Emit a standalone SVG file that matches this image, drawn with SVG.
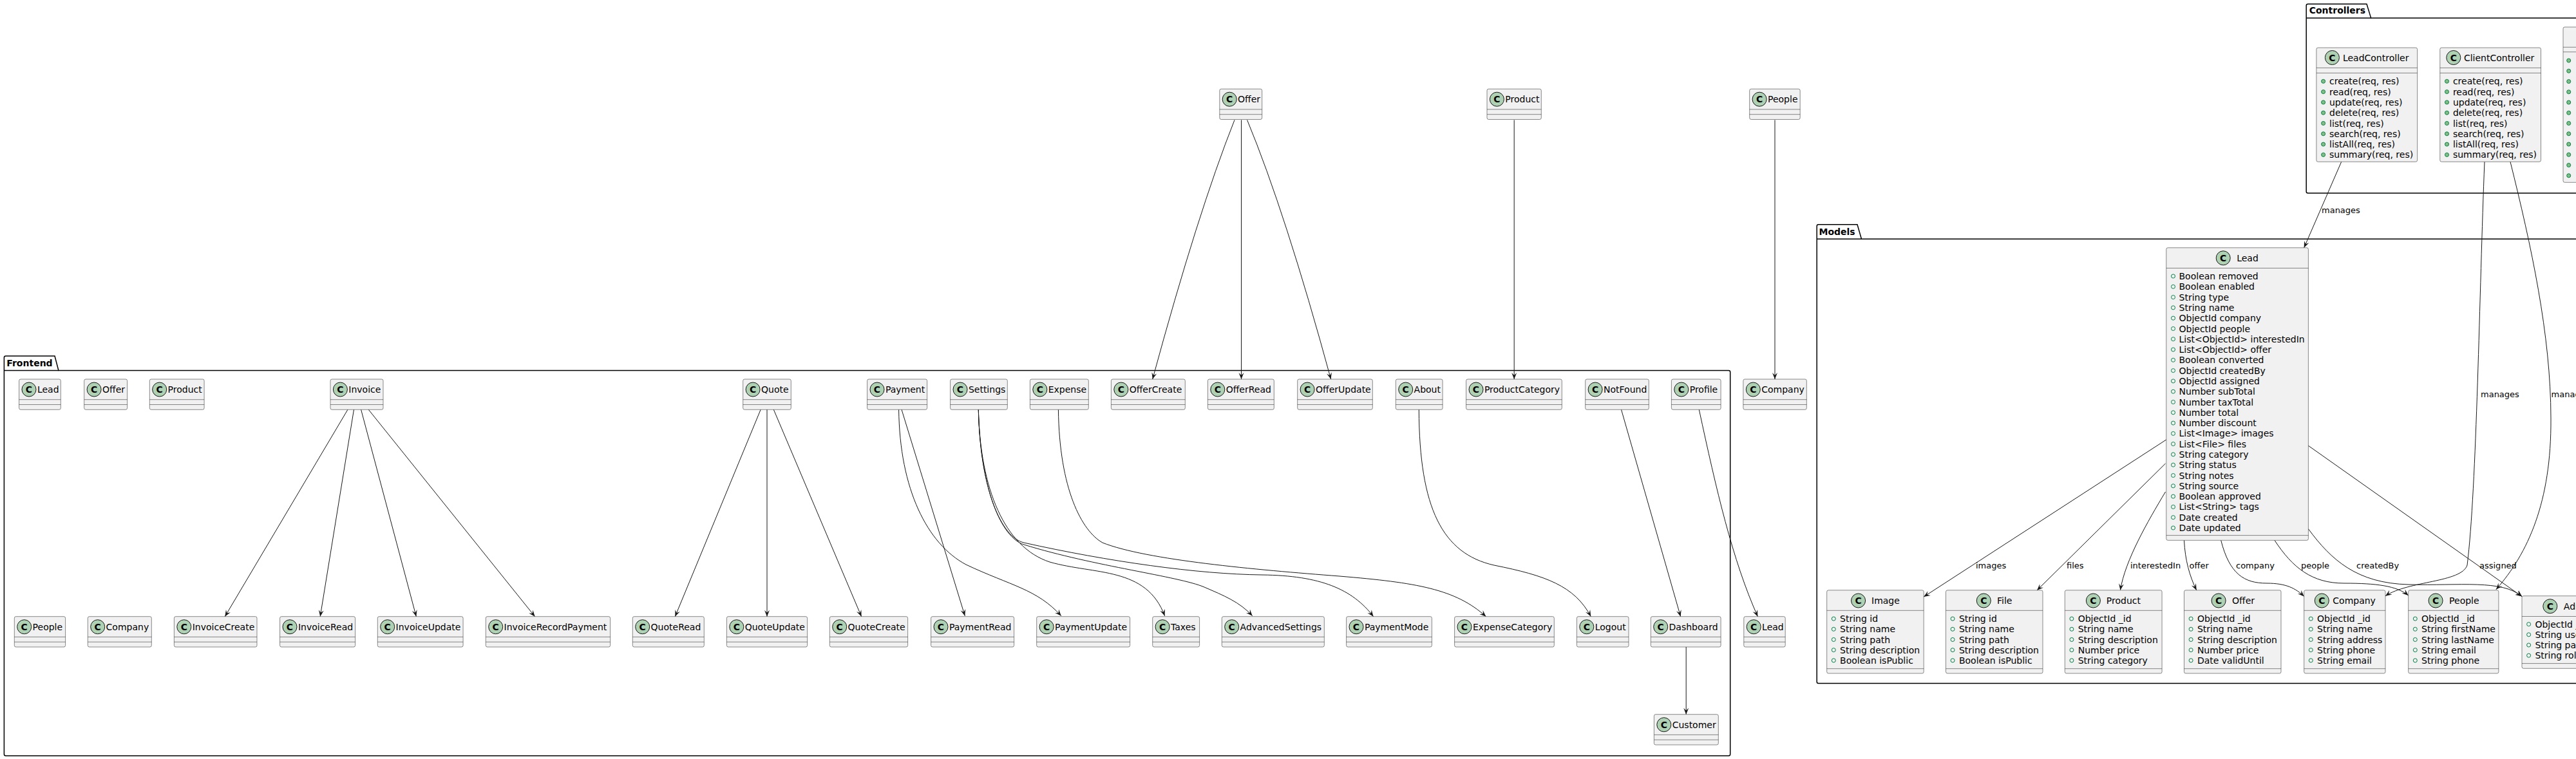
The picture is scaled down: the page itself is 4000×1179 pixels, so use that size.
<svg xmlns="http://www.w3.org/2000/svg" xmlns:xlink="http://www.w3.org/1999/xlink" width="4000" height="1179" viewBox="0 0 4000 1179">
<style>
.box{fill:#F1F1F1;stroke:#181818;stroke-width:0.5}
.sep{stroke:#181818;stroke-width:0.5}
.spot{fill:#ADD1B2;stroke:#181818;stroke-width:1}
.spotc{font-family:"DejaVu Sans",sans-serif;font-size:14px;font-weight:bold;text-anchor:middle;fill:#000}
.name{font-family:"DejaVu Sans",sans-serif;font-size:14px;fill:#000}
.attr{font-family:"DejaVu Sans",sans-serif;font-size:14px;fill:#000}
.fld{fill:none;stroke:#038048;stroke-width:1}
.mth{fill:#84BE84;stroke:#038048;stroke-width:1}
.edge{fill:none;stroke:#181818;stroke-width:1;marker-end:url(#arr)}
.lbl{font-family:"DejaVu Sans",sans-serif;font-size:13px;fill:#000}
.pkg{fill:none;stroke:#000;stroke-width:1.5}
.pkgname{font-family:"DejaVu Sans",sans-serif;font-size:14px;font-weight:bold;fill:#000}
</style>
<defs>
<marker id="arr" markerUnits="userSpaceOnUse" markerWidth="14" markerHeight="12" viewBox="-12 -6 14 12" refX="0" refY="0" orient="auto"><path d="M0,0 L-10,-4 L-6,0 L-10,4 Z" fill="#181818"/></marker>
<circle id="f" r="3" class="fld"/>
<circle id="m" r="3" class="mth"/>
</defs>
<rect x="0" y="0" width="4000" height="1179" fill="#FFFFFF"/>

<g id="packages">
<g id="pkg-Frontend"><path class="pkg" d="M6.4,575.5 L6.4,555.5 Q6.4,553 9,553 L85,553 L90.9,575.5 L2684.2,575.5 Q2686.7,575.5 2686.7,578 L2686.7,1171.5 Q2686.7,1174 2684.2,1174 L9,1174 Q6.4,1174 6.4,1171.5 Z"/><line class="pkg" x1="6.4" y1="575.5" x2="90.9" y2="575.5"/><text class="pkgname" x="10.3" y="568.5">Frontend</text></g>
<g id="pkg-Models"><path class="pkg" d="M2821.2,371.3 L2821.2,351.3 Q2821.2,348.8 2823.7,348.8 L2884,348.8 L2890.5,371.3 L4100,371.3 L4100,1061.6 L2823.7,1061.6 Q2821.2,1061.6 2821.2,1059.1 Z"/><line class="pkg" x1="2821.2" y1="371.3" x2="2890.5" y2="371.3"/><text class="pkgname" x="2824.5" y="365">Models</text></g>
<g id="pkg-Controllers"><path class="pkg" d="M3581.2,28.1 L3581.2,8.7 Q3581.2,6.25 3583.7,6.25 L3675,6.25 L3681.7,28.1 L4100,28.1 L4100,300 L3583.7,300 Q3581.2,300 3581.2,297.5 Z"/><line class="pkg" x1="3581.2" y1="28.1" x2="3681.7" y2="28.1"/><text class="pkgname" x="3585.7" y="21.4">Controllers</text></g>
</g>

<g id="connectors">
<path class="edge" d="M1917,186.4 Q1860,330 1789.7,589"/>
<path class="edge" d="M1927.5,186.4 L1927.5,589"/>
<path class="edge" d="M1936.6,186.4 Q1996,330 2066.6,589"/>
<path class="edge" d="M2351.2,186.4 L2351.2,589"/>
<path class="edge" d="M2756,186.4 L2756,589"/>
<path class="edge" d="M540,636.2 L349.3,957.7"/>
<path class="edge" d="M549.5,636.2 L497.2,957.7"/>
<path class="edge" d="M560.6,636.2 L646.3,957.7"/>
<path class="edge" d="M572.2,636.2 L830.6,957.7"/>
<path class="edge" d="M1181.2,636.2 L1048.3,957.7"/>
<path class="edge" d="M1191,636.2 L1191,957.7"/>
<path class="edge" d="M1201.3,636.2 L1337.6,957.7"/>
<path class="edge" d="M1400,636.2 L1498.3,956.7"/>
<path class="edge" d="M1395.6,636.2 C1397,760 1440,845 1500,877 C1570,910 1610,915 1647.8,956.7"/>
<path class="edge" d="M1519.3,636.2 C1522,760 1560,850 1630,873 C1700,893 1780,880 1808.6,956.7"/>
<path class="edge" d="M1519.3,636.2 C1522,760 1555,835 1590,846 C1700,880 1830,895 1870,912 C1900,925 1925,935 1944.7,956.7"/>
<path class="edge" d="M1519.3,636.2 C1522,760 1555,835 1590,843 C1720,872 1860,892 1960,893 C2050,894 2100,915 2132.6,957.7"/>
<path class="edge" d="M1643.4,636.2 C1645,760 1680,825 1712,843 C1780,870 1950,885 2080,895 C2200,905 2260,915 2307.4,957.7"/>
<path class="edge" d="M2203.3,636.2 C2204,790 2240,860 2320,878 C2400,894 2445,910 2470.3,957.7"/>
<path class="edge" d="M2517.5,636.2 L2609.6,957.7"/>
<path class="edge" d="M2618.2,1005 L2618.2,1109.7"/>
<path class="edge" d="M2638.3,636.2 C2665,760 2690,870 2729.4,957.7"/>
<path class="edge" d="M3635.7,251.3 L3577.7,384.8"/>
<path class="edge" d="M3858,251.3 C3850,450 3846,760 3831,878 C3822,905 3740,902 3704,925.7"/>
<path class="edge" d="M3898,251.3 C3930,380 3961,520 3961,650 C3962,780 3925,860 3875.9,915.7"/>
<path class="edge" d="M3363.8,683 L2987.2,927"/>
<path class="edge" d="M3362.5,720 L3163,917"/>
<path class="edge" d="M3362.5,764 C3335,810 3300,870 3292.4,916.8"/>
<path class="edge" d="M3391.5,839.3 C3393,870 3400,895 3410.7,916.8"/>
<path class="edge" d="M3448.7,839.3 C3462,892 3485,906 3520,906 C3550,906 3565,914 3577.7,926.5"/>
<path class="edge" d="M3532,839.3 C3560,882 3590,906 3640,906 C3690,906 3722,910 3739.7,925"/>
<path class="edge" d="M3584.4,821.6 C3620,870 3660,906 3740,908 C3820,910 3885,900 3916,926.5"/>
<path class="edge" d="M3584.4,692.3 L3916,926.5"/>
<text class="lbl" x="3605" y="330.5">manages</text>
<text class="lbl" x="3852" y="617">manages</text>
<text class="lbl" x="3961.6" y="617">manages</text>
<text class="lbl" x="3068" y="883">images</text>
<text class="lbl" x="3209" y="883">files</text>
<text class="lbl" x="3308" y="883">interestedIn</text>
<text class="lbl" x="3399.5" y="883">offer</text>
<text class="lbl" x="3472" y="883">company</text>
<text class="lbl" x="3573" y="883">people</text>
<text class="lbl" x="3659" y="883">createdBy</text>
<text class="lbl" x="3850" y="883">assigned</text>
</g>

<g id="top-Offer"><rect class="box" x="1893.8" y="138.2" width="65.9" height="47.3" rx="2.5"/><line class="sep" x1="1893.8" y1="169.9" x2="1959.7" y2="169.9"/><line class="sep" x1="1893.8" y1="177.7" x2="1959.7" y2="177.7"/><circle class="spot" cx="1909.2" cy="154.2" r="11"/><text class="spotc" x="1909.2" y="159.2">C</text><text class="name" x="1922.1" y="159.2">Offer</text></g>
<g id="top-Product"><rect class="box" x="2309" y="138.2" width="84.3" height="47.3" rx="2.5"/><line class="sep" x1="2309" y1="169.9" x2="2393.3" y2="169.9"/><line class="sep" x1="2309" y1="177.7" x2="2393.3" y2="177.7"/><circle class="spot" cx="2324.4" cy="154.2" r="11"/><text class="spotc" x="2324.4" y="159.2">C</text><text class="name" x="2337.3" y="159.2">Product</text></g>
<g id="top-People"><rect class="box" x="2716.7" y="138.2" width="78.5" height="47.3" rx="2.5"/><line class="sep" x1="2716.7" y1="169.9" x2="2795.2" y2="169.9"/><line class="sep" x1="2716.7" y1="177.7" x2="2795.2" y2="177.7"/><circle class="spot" cx="2732.1" cy="154.2" r="11"/><text class="spotc" x="2732.1" y="159.2">C</text><text class="name" x="2745" y="159.2">People</text></g>
<g id="top-Company"><rect class="box" x="2706.9" y="589" width="98.4" height="47.3" rx="2.5"/><line class="sep" x1="2706.9" y1="620.7" x2="2805.3" y2="620.7"/><line class="sep" x1="2706.9" y1="628.5" x2="2805.3" y2="628.5"/><circle class="spot" cx="2722.3" cy="605" r="11"/><text class="spotc" x="2722.3" y="610">C</text><text class="name" x="2735.2" y="610">Company</text></g>
<g id="top-Lead"><rect class="box" x="2707.8" y="957.7" width="64.4" height="47.3" rx="2.5"/><line class="sep" x1="2707.8" y1="989.4" x2="2772.2" y2="989.4"/><line class="sep" x1="2707.8" y1="997.2" x2="2772.2" y2="997.2"/><circle class="spot" cx="2723.2" cy="973.7" r="11"/><text class="spotc" x="2723.2" y="978.7">C</text><text class="name" x="2736.1" y="978.7">Lead</text></g>

<g id="fe-Lead"><rect class="box" x="29.6" y="589" width="64.7" height="47.3" rx="2.5"/><line class="sep" x1="29.6" y1="620.7" x2="94.3" y2="620.7"/><line class="sep" x1="29.6" y1="628.5" x2="94.3" y2="628.5"/><circle class="spot" cx="45" cy="605" r="11"/><text class="spotc" x="45" y="610">C</text><text class="name" x="57.9" y="610">Lead</text></g>
<g id="fe-Offer"><rect class="box" x="130.7" y="589" width="66.9" height="47.3" rx="2.5"/><line class="sep" x1="130.7" y1="620.7" x2="197.6" y2="620.7"/><line class="sep" x1="130.7" y1="628.5" x2="197.6" y2="628.5"/><circle class="spot" cx="146.1" cy="605" r="11"/><text class="spotc" x="146.1" y="610">C</text><text class="name" x="159" y="610">Offer</text></g>
<g id="fe-Product"><rect class="box" x="232.3" y="589" width="84.8" height="47.3" rx="2.5"/><line class="sep" x1="232.3" y1="620.7" x2="317.1" y2="620.7"/><line class="sep" x1="232.3" y1="628.5" x2="317.1" y2="628.5"/><circle class="spot" cx="247.7" cy="605" r="11"/><text class="spotc" x="247.7" y="610">C</text><text class="name" x="260.6" y="610">Product</text></g>
<g id="fe-Invoice"><rect class="box" x="513" y="589" width="82" height="47.3" rx="2.5"/><line class="sep" x1="513" y1="620.7" x2="595" y2="620.7"/><line class="sep" x1="513" y1="628.5" x2="595" y2="628.5"/><circle class="spot" cx="528.4" cy="605" r="11"/><text class="spotc" x="528.4" y="610">C</text><text class="name" x="541.3" y="610">Invoice</text></g>
<g id="fe-Quote"><rect class="box" x="1153.7" y="589" width="74.6" height="47.3" rx="2.5"/><line class="sep" x1="1153.7" y1="620.7" x2="1228.3" y2="620.7"/><line class="sep" x1="1153.7" y1="628.5" x2="1228.3" y2="628.5"/><circle class="spot" cx="1169.1" cy="605" r="11"/><text class="spotc" x="1169.1" y="610">C</text><text class="name" x="1182" y="610">Quote</text></g>
<g id="fe-Payment"><rect class="box" x="1346.6" y="589" width="93" height="47.3" rx="2.5"/><line class="sep" x1="1346.6" y1="620.7" x2="1439.6" y2="620.7"/><line class="sep" x1="1346.6" y1="628.5" x2="1439.6" y2="628.5"/><circle class="spot" cx="1362" cy="605" r="11"/><text class="spotc" x="1362" y="610">C</text><text class="name" x="1374.9" y="610">Payment</text></g>
<g id="fe-Settings"><rect class="box" x="1475.6" y="589" width="88.7" height="47.3" rx="2.5"/><line class="sep" x1="1475.6" y1="620.7" x2="1564.3" y2="620.7"/><line class="sep" x1="1475.6" y1="628.5" x2="1564.3" y2="628.5"/><circle class="spot" cx="1491" cy="605" r="11"/><text class="spotc" x="1491" y="610">C</text><text class="name" x="1503.9" y="610">Settings</text></g>
<g id="fe-Expense"><rect class="box" x="1599.4" y="589" width="90.9" height="47.3" rx="2.5"/><line class="sep" x1="1599.4" y1="620.7" x2="1690.3" y2="620.7"/><line class="sep" x1="1599.4" y1="628.5" x2="1690.3" y2="628.5"/><circle class="spot" cx="1614.8" cy="605" r="11"/><text class="spotc" x="1614.8" y="610">C</text><text class="name" x="1627.7" y="610">Expense</text></g>
<g id="fe-OfferCreate"><rect class="box" x="1725.4" y="589" width="114.9" height="47.3" rx="2.5"/><line class="sep" x1="1725.4" y1="620.7" x2="1840.3" y2="620.7"/><line class="sep" x1="1725.4" y1="628.5" x2="1840.3" y2="628.5"/><circle class="spot" cx="1740.8" cy="605" r="11"/><text class="spotc" x="1740.8" y="610">C</text><text class="name" x="1753.7" y="610">OfferCreate</text></g>
<g id="fe-OfferRead"><rect class="box" x="1875.4" y="589" width="102.9" height="47.3" rx="2.5"/><line class="sep" x1="1875.4" y1="620.7" x2="1978.3" y2="620.7"/><line class="sep" x1="1875.4" y1="628.5" x2="1978.3" y2="628.5"/><circle class="spot" cx="1890.8" cy="605" r="11"/><text class="spotc" x="1890.8" y="610">C</text><text class="name" x="1903.7" y="610">OfferRead</text></g>
<g id="fe-OfferUpdate"><rect class="box" x="2014.7" y="589" width="116.6" height="47.3" rx="2.5"/><line class="sep" x1="2014.7" y1="620.7" x2="2131.3" y2="620.7"/><line class="sep" x1="2014.7" y1="628.5" x2="2131.3" y2="628.5"/><circle class="spot" cx="2030.1" cy="605" r="11"/><text class="spotc" x="2030.1" y="610">C</text><text class="name" x="2043" y="610">OfferUpdate</text></g>
<g id="fe-About"><rect class="box" x="2167.3" y="589" width="72.8" height="47.3" rx="2.5"/><line class="sep" x1="2167.3" y1="620.7" x2="2240.1" y2="620.7"/><line class="sep" x1="2167.3" y1="628.5" x2="2240.1" y2="628.5"/><circle class="spot" cx="2182.7" cy="605" r="11"/><text class="spotc" x="2182.7" y="610">C</text><text class="name" x="2195.6" y="610">About</text></g>
<g id="fe-ProductCategory"><rect class="box" x="2276.6" y="589" width="148.7" height="47.3" rx="2.5"/><line class="sep" x1="2276.6" y1="620.7" x2="2425.3" y2="620.7"/><line class="sep" x1="2276.6" y1="628.5" x2="2425.3" y2="628.5"/><circle class="spot" cx="2292" cy="605" r="11"/><text class="spotc" x="2292" y="610">C</text><text class="name" x="2304.9" y="610">ProductCategory</text></g>
<g id="fe-NotFound"><rect class="box" x="2461.7" y="589" width="98.6" height="47.3" rx="2.5"/><line class="sep" x1="2461.7" y1="620.7" x2="2560.3" y2="620.7"/><line class="sep" x1="2461.7" y1="628.5" x2="2560.3" y2="628.5"/><circle class="spot" cx="2477.1" cy="605" r="11"/><text class="spotc" x="2477.1" y="610">C</text><text class="name" x="2490" y="610">NotFound</text></g>
<g id="fe-Profile"><rect class="box" x="2595.4" y="589" width="76.7" height="47.3" rx="2.5"/><line class="sep" x1="2595.4" y1="620.7" x2="2672.1" y2="620.7"/><line class="sep" x1="2595.4" y1="628.5" x2="2672.1" y2="628.5"/><circle class="spot" cx="2610.8" cy="605" r="11"/><text class="spotc" x="2610.8" y="610">C</text><text class="name" x="2623.7" y="610">Profile</text></g>

<g id="fe-People"><rect class="box" x="22.3" y="957.7" width="79.3" height="47.3" rx="2.5"/><line class="sep" x1="22.3" y1="989.4" x2="101.6" y2="989.4"/><line class="sep" x1="22.3" y1="997.2" x2="101.6" y2="997.2"/><circle class="spot" cx="37.7" cy="973.7" r="11"/><text class="spotc" x="37.7" y="978.7">C</text><text class="name" x="50.6" y="978.7">People</text></g>
<g id="fe-Company"><rect class="box" x="136.3" y="957.7" width="99" height="47.3" rx="2.5"/><line class="sep" x1="136.3" y1="989.4" x2="235.3" y2="989.4"/><line class="sep" x1="136.3" y1="997.2" x2="235.3" y2="997.2"/><circle class="spot" cx="151.7" cy="973.7" r="11"/><text class="spotc" x="151.7" y="978.7">C</text><text class="name" x="164.6" y="978.7">Company</text></g>
<g id="fe-InvoiceCreate"><rect class="box" x="270.4" y="957.7" width="128.6" height="47.3" rx="2.5"/><line class="sep" x1="270.4" y1="989.4" x2="399" y2="989.4"/><line class="sep" x1="270.4" y1="997.2" x2="399" y2="997.2"/><circle class="spot" cx="285.8" cy="973.7" r="11"/><text class="spotc" x="285.8" y="978.7">C</text><text class="name" x="298.7" y="978.7">InvoiceCreate</text></g>
<g id="fe-InvoiceRead"><rect class="box" x="434.6" y="957.7" width="117" height="47.3" rx="2.5"/><line class="sep" x1="434.6" y1="989.4" x2="551.6" y2="989.4"/><line class="sep" x1="434.6" y1="997.2" x2="551.6" y2="997.2"/><circle class="spot" cx="450" cy="973.7" r="11"/><text class="spotc" x="450" y="978.7">C</text><text class="name" x="462.9" y="978.7">InvoiceRead</text></g>
<g id="fe-InvoiceUpdate"><rect class="box" x="586.3" y="957.7" width="132.8" height="47.3" rx="2.5"/><line class="sep" x1="586.3" y1="989.4" x2="719.1" y2="989.4"/><line class="sep" x1="586.3" y1="997.2" x2="719.1" y2="997.2"/><circle class="spot" cx="601.7" cy="973.7" r="11"/><text class="spotc" x="601.7" y="978.7">C</text><text class="name" x="614.6" y="978.7">InvoiceUpdate</text></g>
<g id="fe-InvoiceRecordPayment"><rect class="box" x="754.3" y="957.7" width="193.3" height="47.3" rx="2.5"/><line class="sep" x1="754.3" y1="989.4" x2="947.6" y2="989.4"/><line class="sep" x1="754.3" y1="997.2" x2="947.6" y2="997.2"/><circle class="spot" cx="769.7" cy="973.7" r="11"/><text class="spotc" x="769.7" y="978.7">C</text><text class="name" x="782.6" y="978.7">InvoiceRecordPayment</text></g>
<g id="fe-QuoteRead"><rect class="box" x="982.3" y="957.7" width="111" height="47.3" rx="2.5"/><line class="sep" x1="982.3" y1="989.4" x2="1093.3" y2="989.4"/><line class="sep" x1="982.3" y1="997.2" x2="1093.3" y2="997.2"/><circle class="spot" cx="997.7" cy="973.7" r="11"/><text class="spotc" x="997.7" y="978.7">C</text><text class="name" x="1010.6" y="978.7">QuoteRead</text></g>
<g id="fe-QuoteUpdate"><rect class="box" x="1128.4" y="957.7" width="125.2" height="47.3" rx="2.5"/><line class="sep" x1="1128.4" y1="989.4" x2="1253.6" y2="989.4"/><line class="sep" x1="1128.4" y1="997.2" x2="1253.6" y2="997.2"/><circle class="spot" cx="1143.8" cy="973.7" r="11"/><text class="spotc" x="1143.8" y="978.7">C</text><text class="name" x="1156.7" y="978.7">QuoteUpdate</text></g>
<g id="fe-QuoteCreate"><rect class="box" x="1288.3" y="957.7" width="121.3" height="47.3" rx="2.5"/><line class="sep" x1="1288.3" y1="989.4" x2="1409.6" y2="989.4"/><line class="sep" x1="1288.3" y1="997.2" x2="1409.6" y2="997.2"/><circle class="spot" cx="1303.7" cy="973.7" r="11"/><text class="spotc" x="1303.7" y="978.7">C</text><text class="name" x="1316.6" y="978.7">QuoteCreate</text></g>
<g id="fe-PaymentRead"><rect class="box" x="1445.6" y="957.7" width="129" height="47.3" rx="2.5"/><line class="sep" x1="1445.6" y1="989.4" x2="1574.6" y2="989.4"/><line class="sep" x1="1445.6" y1="997.2" x2="1574.6" y2="997.2"/><circle class="spot" cx="1461" cy="973.7" r="11"/><text class="spotc" x="1461" y="978.7">C</text><text class="name" x="1473.9" y="978.7">PaymentRead</text></g>
<g id="fe-PaymentUpdate"><rect class="box" x="1609.7" y="957.7" width="144.9" height="47.3" rx="2.5"/><line class="sep" x1="1609.7" y1="989.4" x2="1754.6" y2="989.4"/><line class="sep" x1="1609.7" y1="997.2" x2="1754.6" y2="997.2"/><circle class="spot" cx="1625.1" cy="973.7" r="11"/><text class="spotc" x="1625.1" y="978.7">C</text><text class="name" x="1638" y="978.7">PaymentUpdate</text></g>
<g id="fe-Taxes"><rect class="box" x="1789.7" y="957.7" width="72.9" height="47.3" rx="2.5"/><line class="sep" x1="1789.7" y1="989.4" x2="1862.6" y2="989.4"/><line class="sep" x1="1789.7" y1="997.2" x2="1862.6" y2="997.2"/><circle class="spot" cx="1805.1" cy="973.7" r="11"/><text class="spotc" x="1805.1" y="978.7">C</text><text class="name" x="1818" y="978.7">Taxes</text></g>
<g id="fe-AdvancedSettings"><rect class="box" x="1897.3" y="957.7" width="159" height="47.3" rx="2.5"/><line class="sep" x1="1897.3" y1="989.4" x2="2056.3" y2="989.4"/><line class="sep" x1="1897.3" y1="997.2" x2="2056.3" y2="997.2"/><circle class="spot" cx="1912.7" cy="973.7" r="11"/><text class="spotc" x="1912.7" y="978.7">C</text><text class="name" x="1925.6" y="978.7">AdvancedSettings</text></g>
<g id="fe-PaymentMode"><rect class="box" x="2090.6" y="957.7" width="132.8" height="47.3" rx="2.5"/><line class="sep" x1="2090.6" y1="989.4" x2="2223.4" y2="989.4"/><line class="sep" x1="2090.6" y1="997.2" x2="2223.4" y2="997.2"/><circle class="spot" cx="2106" cy="973.7" r="11"/><text class="spotc" x="2106" y="978.7">C</text><text class="name" x="2118.9" y="978.7">PaymentMode</text></g>
<g id="fe-ExpenseCategory"><rect class="box" x="2258.6" y="957.7" width="154.7" height="47.3" rx="2.5"/><line class="sep" x1="2258.6" y1="989.4" x2="2413.3" y2="989.4"/><line class="sep" x1="2258.6" y1="997.2" x2="2413.3" y2="997.2"/><circle class="spot" cx="2274" cy="973.7" r="11"/><text class="spotc" x="2274" y="978.7">C</text><text class="name" x="2286.9" y="978.7">ExpenseCategory</text></g>
<g id="fe-Logout"><rect class="box" x="2448.4" y="957.7" width="80.6" height="47.3" rx="2.5"/><line class="sep" x1="2448.4" y1="989.4" x2="2529" y2="989.4"/><line class="sep" x1="2448.4" y1="997.2" x2="2529" y2="997.2"/><circle class="spot" cx="2463.8" cy="973.7" r="11"/><text class="spotc" x="2463.8" y="978.7">C</text><text class="name" x="2476.7" y="978.7">Logout</text></g>
<g id="fe-Dashboard"><rect class="box" x="2563.3" y="957.7" width="108.8" height="47.3" rx="2.5"/><line class="sep" x1="2563.3" y1="989.4" x2="2672.1" y2="989.4"/><line class="sep" x1="2563.3" y1="997.2" x2="2672.1" y2="997.2"/><circle class="spot" cx="2578.7" cy="973.7" r="11"/><text class="spotc" x="2578.7" y="978.7">C</text><text class="name" x="2591.6" y="978.7">Dashboard</text></g>
<g id="fe-Customer"><rect class="box" x="2568.4" y="1109.7" width="99.9" height="47.3" rx="2.5"/><line class="sep" x1="2568.4" y1="1141.4" x2="2668.3" y2="1141.4"/><line class="sep" x1="2568.4" y1="1149.2" x2="2668.3" y2="1149.2"/><circle class="spot" cx="2583.8" cy="1125.7" r="11"/><text class="spotc" x="2583.8" y="1130.7">C</text><text class="name" x="2596.7" y="1130.7">Customer</text></g>

<g id="ctl-LeadController"><rect class="box" x="3596.9" y="74.1" width="156.7" height="177.2" rx="2.5"/><line class="sep" x1="3596.9" y1="105.4" x2="3753.6" y2="105.4"/><line class="sep" x1="3596.9" y1="113.4" x2="3753.6" y2="113.4"/><circle class="spot" cx="3621.4" cy="89.5" r="11"/><text class="spotc" x="3621.4" y="94.5">C</text><text class="name" x="3637.9" y="94.5">LeadController</text>
<use href="#m" x="3607.6" y="126.3"/><use href="#m" x="3607.6" y="142.6"/><use href="#m" x="3607.6" y="158.9"/><use href="#m" x="3607.6" y="175.2"/><use href="#m" x="3607.6" y="191.5"/><use href="#m" x="3607.6" y="207.8"/><use href="#m" x="3607.6" y="224.1"/><use href="#m" x="3607.6" y="240.4"/>
<text class="attr" x="3617" y="131.3">create(req, res)</text><text class="attr" x="3617" y="147.6">read(req, res)</text><text class="attr" x="3617" y="163.9">update(req, res)</text><text class="attr" x="3617" y="180.2">delete(req, res)</text><text class="attr" x="3617" y="196.5">list(req, res)</text><text class="attr" x="3617" y="212.8">search(req, res)</text><text class="attr" x="3617" y="229.1">listAll(req, res)</text><text class="attr" x="3617" y="245.4">summary(req, res)</text></g>
<g id="ctl-ClientController"><rect class="box" x="3788.8" y="74.1" width="156.7" height="177.2" rx="2.5"/><line class="sep" x1="3788.8" y1="105.4" x2="3945.5" y2="105.4"/><line class="sep" x1="3788.8" y1="113.4" x2="3945.5" y2="113.4"/><circle class="spot" cx="3809.8" cy="89.5" r="11"/><text class="spotc" x="3809.8" y="94.5">C</text><text class="name" x="3825.9" y="94.5">ClientController</text>
<use href="#m" x="3799.5" y="126.3"/><use href="#m" x="3799.5" y="142.6"/><use href="#m" x="3799.5" y="158.9"/><use href="#m" x="3799.5" y="175.2"/><use href="#m" x="3799.5" y="191.5"/><use href="#m" x="3799.5" y="207.8"/><use href="#m" x="3799.5" y="224.1"/><use href="#m" x="3799.5" y="240.4"/>
<text class="attr" x="3808.9" y="131.3">create(req, res)</text><text class="attr" x="3808.9" y="147.6">read(req, res)</text><text class="attr" x="3808.9" y="163.9">update(req, res)</text><text class="attr" x="3808.9" y="180.2">delete(req, res)</text><text class="attr" x="3808.9" y="196.5">list(req, res)</text><text class="attr" x="3808.9" y="212.8">search(req, res)</text><text class="attr" x="3808.9" y="229.1">listAll(req, res)</text><text class="attr" x="3808.9" y="245.4">summary(req, res)</text></g>
<g id="ctl-Third"><rect class="box" x="3980" y="42" width="200" height="241.3" rx="2.5"/><line class="sep" x1="3980" y1="73.3" x2="4180" y2="73.3"/><line class="sep" x1="3980" y1="80.7" x2="4180" y2="80.7"/>
<use href="#m" x="3988.7" y="94"/><use href="#m" x="3988.7" y="110.25"/><use href="#m" x="3988.7" y="126.5"/><use href="#m" x="3988.7" y="142.75"/><use href="#m" x="3988.7" y="159"/><use href="#m" x="3988.7" y="175.25"/><use href="#m" x="3988.7" y="191.5"/><use href="#m" x="3988.7" y="207.75"/><use href="#m" x="3988.7" y="224"/><use href="#m" x="3988.7" y="240.25"/><use href="#m" x="3988.7" y="256.5"/><use href="#m" x="3988.7" y="272.75"/></g>

<g id="mdl-Lead"><rect class="box" x="3363.8" y="384.8" width="220.6" height="454.5" rx="2.5"/><line class="sep" x1="3363.8" y1="416.5" x2="3584.4" y2="416.5"/><line class="sep" x1="3363.8" y1="831.6" x2="3584.4" y2="831.6"/><circle class="spot" cx="3452.2" cy="400.8" r="11"/><text class="spotc" x="3452.2" y="405.8">C</text><text class="name" x="3473.2" y="405.8">Lead</text>
<use href="#f" x="3374.5" y="429"/><use href="#f" x="3374.5" y="445.3"/><use href="#f" x="3374.5" y="461.6"/><use href="#f" x="3374.5" y="477.9"/><use href="#f" x="3374.5" y="494.2"/><use href="#f" x="3374.5" y="510.5"/><use href="#f" x="3374.5" y="526.7"/><use href="#f" x="3374.5" y="543"/><use href="#f" x="3374.5" y="559.3"/><use href="#f" x="3374.5" y="575.6"/><use href="#f" x="3374.5" y="591.9"/><use href="#f" x="3374.5" y="608.2"/><use href="#f" x="3374.5" y="624.5"/><use href="#f" x="3374.5" y="640.8"/><use href="#f" x="3374.5" y="657.1"/><use href="#f" x="3374.5" y="673.4"/><use href="#f" x="3374.5" y="689.6"/><use href="#f" x="3374.5" y="705.9"/><use href="#f" x="3374.5" y="722.2"/><use href="#f" x="3374.5" y="738.5"/><use href="#f" x="3374.5" y="754.8"/><use href="#f" x="3374.5" y="771.1"/><use href="#f" x="3374.5" y="787.4"/><use href="#f" x="3374.5" y="803.7"/><use href="#f" x="3374.5" y="820"/>
<text class="attr" x="3383.5" y="434">Boolean removed</text>
<text class="attr" x="3383.5" y="450.3">Boolean enabled</text>
<text class="attr" x="3383.5" y="466.6">String type</text>
<text class="attr" x="3383.5" y="482.9">String name</text>
<text class="attr" x="3383.5" y="499.2">ObjectId company</text>
<text class="attr" x="3383.5" y="515.5">ObjectId people</text>
<text class="attr" x="3383.5" y="531.7">List&lt;ObjectId&gt; interestedIn</text>
<text class="attr" x="3383.5" y="548">List&lt;ObjectId&gt; offer</text>
<text class="attr" x="3383.5" y="564.3">Boolean converted</text>
<text class="attr" x="3383.5" y="580.6">ObjectId createdBy</text>
<text class="attr" x="3383.5" y="596.9">ObjectId assigned</text>
<text class="attr" x="3383.5" y="613.2">Number subTotal</text>
<text class="attr" x="3383.5" y="629.5">Number taxTotal</text>
<text class="attr" x="3383.5" y="645.8">Number total</text>
<text class="attr" x="3383.5" y="662.1">Number discount</text>
<text class="attr" x="3383.5" y="678.4">List&lt;Image&gt; images</text>
<text class="attr" x="3383.5" y="694.6">List&lt;File&gt; files</text>
<text class="attr" x="3383.5" y="710.9">String category</text>
<text class="attr" x="3383.5" y="727.2">String status</text>
<text class="attr" x="3383.5" y="743.5">String notes</text>
<text class="attr" x="3383.5" y="759.8">String source</text>
<text class="attr" x="3383.5" y="776.1">Boolean approved</text>
<text class="attr" x="3383.5" y="792.4">List&lt;String&gt; tags</text>
<text class="attr" x="3383.5" y="808.7">Date created</text>
<text class="attr" x="3383.5" y="825">Date updated</text></g>

<g id="mdl-Image"><rect class="box" x="2836.7" y="916.8" width="150.5" height="129.2" rx="2.5"/><line class="sep" x1="2836.7" y1="948.3" x2="2987.2" y2="948.3"/><line class="sep" x1="2836.7" y1="1038.7" x2="2987.2" y2="1038.7"/><circle class="spot" cx="2885.6" cy="933" r="11"/><text class="spotc" x="2885.6" y="938">C</text><text class="name" x="2906" y="938">Image</text>
<use href="#f" x="2847.3" y="961.1"/><use href="#f" x="2847.3" y="977.3"/><use href="#f" x="2847.3" y="993.5"/><use href="#f" x="2847.3" y="1009.7"/><use href="#f" x="2847.3" y="1025.9"/>
<text class="attr" x="2857.1" y="966.1">String id</text><text class="attr" x="2857.1" y="982.3">String name</text><text class="attr" x="2857.1" y="998.5">String path</text><text class="attr" x="2857.1" y="1014.7">String description</text><text class="attr" x="2857.1" y="1030.9">Boolean isPublic</text></g>
<g id="mdl-File"><rect class="box" x="3021.5" y="916.8" width="150.5" height="129.2" rx="2.5"/><line class="sep" x1="3021.5" y1="948.3" x2="3172" y2="948.3"/><line class="sep" x1="3021.5" y1="1038.7" x2="3172" y2="1038.7"/><circle class="spot" cx="3080.3" cy="933" r="11"/><text class="spotc" x="3080.3" y="938">C</text><text class="name" x="3101" y="938">File</text>
<use href="#f" x="3032.1" y="961.1"/><use href="#f" x="3032.1" y="977.3"/><use href="#f" x="3032.1" y="993.5"/><use href="#f" x="3032.1" y="1009.7"/><use href="#f" x="3032.1" y="1025.9"/>
<text class="attr" x="3041.9" y="966.1">String id</text><text class="attr" x="3041.9" y="982.3">String name</text><text class="attr" x="3041.9" y="998.5">String path</text><text class="attr" x="3041.9" y="1014.7">String description</text><text class="attr" x="3041.9" y="1030.9">Boolean isPublic</text></g>
<g id="mdl-Product"><rect class="box" x="3206.3" y="916.8" width="150.8" height="129.2" rx="2.5"/><line class="sep" x1="3206.3" y1="948.3" x2="3357.1" y2="948.3"/><line class="sep" x1="3206.3" y1="1038.7" x2="3357.1" y2="1038.7"/><circle class="spot" cx="3250.4" cy="933" r="11"/><text class="spotc" x="3250.4" y="938">C</text><text class="name" x="3270.8" y="938">Product</text>
<use href="#f" x="3216.9" y="961.1"/><use href="#f" x="3216.9" y="977.3"/><use href="#f" x="3216.9" y="993.5"/><use href="#f" x="3216.9" y="1009.7"/><use href="#f" x="3216.9" y="1025.9"/>
<text class="attr" x="3226.7" y="966.1">ObjectId _id</text><text class="attr" x="3226.7" y="982.3">String name</text><text class="attr" x="3226.7" y="998.5">String description</text><text class="attr" x="3226.7" y="1014.7">Number price</text><text class="attr" x="3226.7" y="1030.9">String category</text></g>
<g id="mdl-Offer"><rect class="box" x="3391.5" y="916.8" width="150.5" height="129.2" rx="2.5"/><line class="sep" x1="3391.5" y1="948.3" x2="3542" y2="948.3"/><line class="sep" x1="3391.5" y1="1038.7" x2="3542" y2="1038.7"/><circle class="spot" cx="3445.1" cy="933" r="11"/><text class="spotc" x="3445.1" y="938">C</text><text class="name" x="3466" y="938">Offer</text>
<use href="#f" x="3402.1" y="961.1"/><use href="#f" x="3402.1" y="977.3"/><use href="#f" x="3402.1" y="993.5"/><use href="#f" x="3402.1" y="1009.7"/><use href="#f" x="3402.1" y="1025.9"/>
<text class="attr" x="3411.9" y="966.1">ObjectId _id</text><text class="attr" x="3411.9" y="982.3">String name</text><text class="attr" x="3411.9" y="998.5">String description</text><text class="attr" x="3411.9" y="1014.7">Number price</text><text class="attr" x="3411.9" y="1030.9">Date validUntil</text></g>
<g id="mdl-Company"><rect class="box" x="3577.7" y="916.8" width="126.3" height="129.2" rx="2.5"/><line class="sep" x1="3577.7" y1="948.3" x2="3704" y2="948.3"/><line class="sep" x1="3577.7" y1="1038.7" x2="3704" y2="1038.7"/><circle class="spot" cx="3605.3" cy="933" r="11"/><text class="spotc" x="3605.3" y="938">C</text><text class="name" x="3622.3" y="938">Company</text>
<use href="#f" x="3588.3" y="961.1"/><use href="#f" x="3588.3" y="977.3"/><use href="#f" x="3588.3" y="993.5"/><use href="#f" x="3588.3" y="1009.7"/><use href="#f" x="3588.3" y="1025.9"/>
<text class="attr" x="3598.1" y="966.1">ObjectId _id</text><text class="attr" x="3598.1" y="982.3">String name</text><text class="attr" x="3598.1" y="998.5">String address</text><text class="attr" x="3598.1" y="1014.7">String phone</text><text class="attr" x="3598.1" y="1030.9">String email</text></g>
<g id="mdl-People"><rect class="box" x="3739.7" y="916.8" width="140.2" height="129.2" rx="2.5"/><line class="sep" x1="3739.7" y1="948.3" x2="3879.9" y2="948.3"/><line class="sep" x1="3739.7" y1="1038.7" x2="3879.9" y2="1038.7"/><circle class="spot" cx="3782.1" cy="933" r="11"/><text class="spotc" x="3782.1" y="938">C</text><text class="name" x="3803.1" y="938">People</text>
<use href="#f" x="3750.3" y="961.1"/><use href="#f" x="3750.3" y="977.3"/><use href="#f" x="3750.3" y="993.5"/><use href="#f" x="3750.3" y="1009.7"/><use href="#f" x="3750.3" y="1025.9"/>
<text class="attr" x="3760.1" y="966.1">ObjectId _id</text><text class="attr" x="3760.1" y="982.3">String firstName</text><text class="attr" x="3760.1" y="998.5">String lastName</text><text class="attr" x="3760.1" y="1014.7">String email</text><text class="attr" x="3760.1" y="1030.9">String phone</text></g>
<g id="mdl-Admin"><rect class="box" x="3916" y="925.7" width="145" height="112.6" rx="2.5"/><line class="sep" x1="3916" y1="957.5" x2="4061" y2="957.5"/><line class="sep" x1="3916" y1="1030.6" x2="4061" y2="1030.6"/><circle class="spot" cx="3959.8" cy="941.7" r="11"/><text class="spotc" x="3959.8" y="946.7">C</text><text class="name" x="3980.8" y="946.7">Admin</text>
<use href="#f" x="3926.6" y="969.6"/><use href="#f" x="3926.6" y="985.8"/><use href="#f" x="3926.6" y="1002"/><use href="#f" x="3926.6" y="1018.2"/>
<text class="attr" x="3936.4" y="974.6">ObjectId _id</text><text class="attr" x="3936.4" y="990.8">String username</text><text class="attr" x="3936.4" y="1007">String password</text><text class="attr" x="3936.4" y="1023.2">String role</text></g>
</svg>
